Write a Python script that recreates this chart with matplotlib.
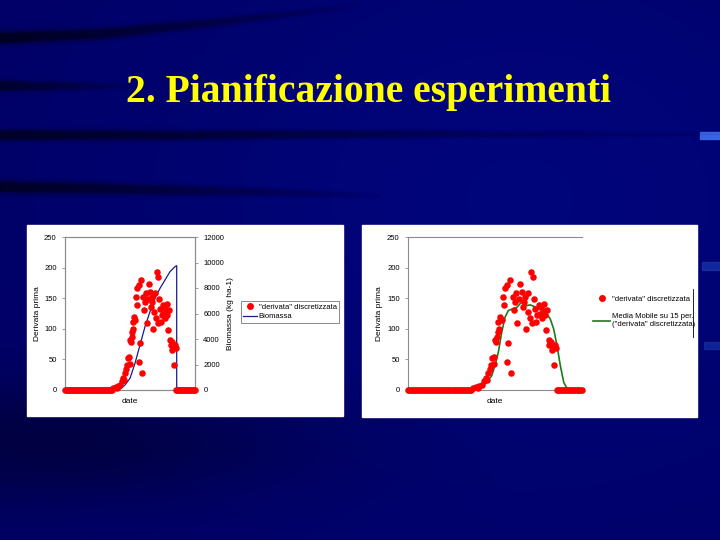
import numpy as np
import matplotlib
matplotlib.use("Agg")
import matplotlib.pyplot as plt
from matplotlib.lines import Line2D

# ---- dati ----
# giorni (asse "date", 0..130) con derivata nulla
giorni_zero_prima = list(range(0, 48))
giorni_zero_dopo = list(range(111, 131))

# punti "derivata" discretizzata (giorno, valore)
giorni_deriv = [48.3, 50.7, 52, 53, 55, 56.7, 58.3, 58.8, 60, 61, 61.7, 62.7, 64, 64.5,
                65, 66, 66.7, 67.3, 67.6, 68.3, 68.8, 70, 70.7, 71.7, 72.3, 74, 74.3,
                75, 76, 77.3, 78.3, 79.3, 80, 80.7, 81.7, 83.3, 84, 85, 86, 86.7, 87.3,
                88.3, 89.3, 90, 91, 91.7, 92.7, 93.3, 94.3, 95, 95.7, 96.7, 97.7, 98.3,
                99.3, 100, 100.7, 101.7, 102.3, 103.3, 104, 105, 105.7, 106.7, 107.3,
                108.3, 109.3, 110, 110.7]
valori_deriv = [4, 5, 3, 6, 8, 14, 19, 16, 27, 35, 41, 52, 54, 43,
                82, 79, 87, 95, 111, 100, 120, 114, 152, 139, 166, 45, 171,
                76, 179, 27, 152, 130, 144, 158, 109, 149, 174, 160, 136, 144, 152,
                100, 128, 158, 117, 193, 109, 185, 149, 133, 111, 122, 139, 125,
                136, 117, 129, 141, 122, 98, 130, 82, 73, 79, 65,
                71, 41, 73, 68]

# Biomassa (kg ha-1)
giorni_bio = [0, 50, 55, 60, 65, 70, 75, 80, 85, 90, 95, 100, 105, 110, 111.7, 111.7, 130]
biomassa = [0, 0, 60, 392, 915, 2092, 3529, 4967, 6144, 7190, 7974, 8627, 9281, 9673, 9750, 0, 0]

# Media mobile su 15 periodi
giorni_mm = [0, 47, 48.8, 53.8, 58.8, 62.5, 65, 67.5, 70, 72.5, 75, 78.8, 81.3, 83.8, 86.3,
             88.8, 91.3, 93.8, 96.3, 100, 103.8, 106.3, 108.8, 111.3, 113.8, 116.3, 118.8, 120]
media_mobile = [0, 0, 2, 4, 13, 23, 40, 62, 94, 119, 130, 133, 135, 141, 146,
                138, 139, 137, 134, 130, 124, 116, 100, 73, 40, 13, 2, 0]

# ---- figura ----
W, H = 720, 540
fig = plt.figure(figsize=(7.2, 5.4), dpi=100)


def px_axes(x, y, w, h, **kw):
    return fig.add_axes([x / W, 1 - (y + h) / H, w / W, h / H], **kw)


# sfondo blu scuro con strisce
bg = px_axes(0, 0, W, H)
yy, xx = np.mgrid[0:H, 0:W]
ombra = np.exp(-(((xx - 60) / 260.0) ** 2 + ((yy - 440) / 60.0) ** 2))
luce = np.exp(-(((xx - 520) / 380.0) ** 2 + ((yy - 200) / 300.0) ** 2))
img = np.zeros((H, W, 3))
img[..., 1] = 0.02 * luce
img[..., 2] = 0.40 + 0.08 * luce - 0.15 * ombra
bg.imshow(img, extent=[0, W, H, 0], aspect="auto")
bg.set_xlim(0, W)
bg.set_ylim(H, 0)
bg.axis("off")

strisce = [
    (np.array([0, 100, 220, 360]), np.array([38, 34, 22, 6]), 7, 0.85),
    (np.array([0, 60, 140]), np.array([86, 86, 86]), 6, 0.7),
    (np.array([0, 200, 450, 720]), np.array([135, 135, 134, 134]), 6, 0.75),
    (np.array([0, 120, 260, 380]), np.array([187, 189, 192, 196]), 7, 0.8),
]
for sx, sy, lw, a in strisce:
    xs = np.linspace(sx[0], sx[-1], 120)
    ys = np.interp(xs, sx, sy)
    fade = np.linspace(1, 0.05, 120)
    for wk, ak in [(2.2, 0.12), (1.5, 0.25), (1.0, 0.6)]:
        for i in range(119):
            bg.plot(xs[i:i + 2], ys[i:i + 2], color="black", lw=lw * wk * fade[i] ** 0.5,
                    alpha=a * ak * fade[i], solid_capstyle="butt")
bg.add_patch(plt.Rectangle((700, 132), 20, 7, color="#3a63e6"))
bg.add_patch(plt.Rectangle((702, 262), 18, 8, color="#1f3fb5", alpha=0.6))
bg.add_patch(plt.Rectangle((704, 342), 16, 7, color="#1f3fb5", alpha=0.5))

# titolo
fig.text(368 / W, 1 - 102 / H, "2. Pianificazione esperimenti", ha="center", va="baseline",
         color="#ffff00", fontsize=28.5, fontweight="bold", family="Liberation Serif")

# pannelli bianchi
bg.add_patch(plt.Rectangle((27, 225), 316, 191, color="white"))
bg.add_patch(plt.Rectangle((362, 225), 335, 192, color="white"))

fs = 5.5
fam = "Liberation Sans"
grigio = "#8c8c8c"
dim_punto = 22

giorni_zero = giorni_zero_prima + giorni_zero_dopo
valori_zero = [0] * len(giorni_zero)


def stile(ax):
    for s in ax.spines.values():
        s.set_color(grigio)
        s.set_linewidth(0.8)
    ax.tick_params(axis="y", length=2, width=0.6, color=grigio, labelsize=fs, pad=4)
    ax.set_xticks([])
    for lab in ax.get_yticklabels():
        lab.set_family(fam)


# ---- grafico sinistro ----
ax1 = px_axes(65, 237, 130, 153)
ax1.set_facecolor("white")
ax1.scatter(giorni_zero, valori_zero, s=dim_punto, color="red", zorder=3, clip_on=False, lw=0)
ax1.scatter(giorni_deriv, valori_deriv, s=dim_punto, color="red", zorder=3, clip_on=False, lw=0)
ax1.set_xlim(0, 130)
ax1.set_ylim(0, 250)
ax1.set_yticks([0, 50, 100, 150, 200, 250])
ax1.set_ylabel("Derivata prima", fontsize=fs + 0.5, family=fam, labelpad=2)
ax1.set_xlabel("date", fontsize=fs + 0.5, family=fam, labelpad=6)
stile(ax1)

ax1b = ax1.twinx()
ax1b.plot(giorni_bio, biomassa, color="#1a1a8c", lw=0.9, zorder=2)
ax1b.set_ylim(0, 12000)
ax1b.set_yticks(range(0, 12001, 2000))
ax1b.set_ylabel("Biomassa (kg ha-1)", fontsize=fs + 0.5, family=fam, labelpad=2)
stile(ax1b)
ax1.set_zorder(ax1b.get_zorder() + 1)
ax1.patch.set_visible(False)

h1 = [Line2D([], [], ls="", marker="o", color="red", markersize=4),
      Line2D([], [], color="#1a1a8c", lw=0.9)]
leg1 = fig.legend(h1, ['"derivata" discretizzata', "Biomassa"],
                  loc="upper left", bbox_to_anchor=(241 / W, 1 - 301 / H),
                  prop={"family": fam, "size": fs}, frameon=True, fancybox=False,
                  borderpad=0.3, borderaxespad=0, handlelength=1.8, handletextpad=0.2,
                  labelspacing=0.3)
leg1.get_frame().set_edgecolor("#555555")
leg1.get_frame().set_linewidth(0.6)

# ---- grafico destro ----
ax2 = px_axes(408, 237, 174, 153)
ax2.set_facecolor("white")
ax2.plot(giorni_mm, media_mobile, color="#1e7a1e", lw=1.2, zorder=2)
ax2.scatter(giorni_zero, valori_zero, s=dim_punto, color="red", zorder=3, clip_on=False, lw=0)
ax2.scatter(giorni_deriv, valori_deriv, s=dim_punto, color="red", zorder=3, clip_on=False, lw=0)
ax2.set_xlim(0, 130)
ax2.set_ylim(0, 250)
ax2.set_yticks([0, 50, 100, 150, 200, 250])
ax2.set_ylabel("Derivata prima", fontsize=fs + 0.5, family=fam, labelpad=3)
ax2.set_xlabel("date", fontsize=fs + 0.5, family=fam, labelpad=6)
stile(ax2)
ax2.spines["right"].set_visible(False)

h2 = [Line2D([], [], ls="", marker="o", color="red", markersize=4),
      Line2D([], [], color="#1e7a1e", lw=1.2)]
fig.legend(h2, ['"derivata" discretizzata', 'Media Mobile su 15 per.\n("derivata" discretizzata)'],
           loc="upper left", bbox_to_anchor=(588 / W, 1 - 290 / H),
           prop={"family": fam, "size": fs}, frameon=False,
           borderpad=0.2, handlelength=2.2, handletextpad=0.2, labelspacing=1.4)
fig.add_artist(Line2D([693 / W, 693 / W], [1 - 289 / H, 1 - 337 / H], color="black", lw=0.6))

fig.savefig("out.png", dpi=100)
